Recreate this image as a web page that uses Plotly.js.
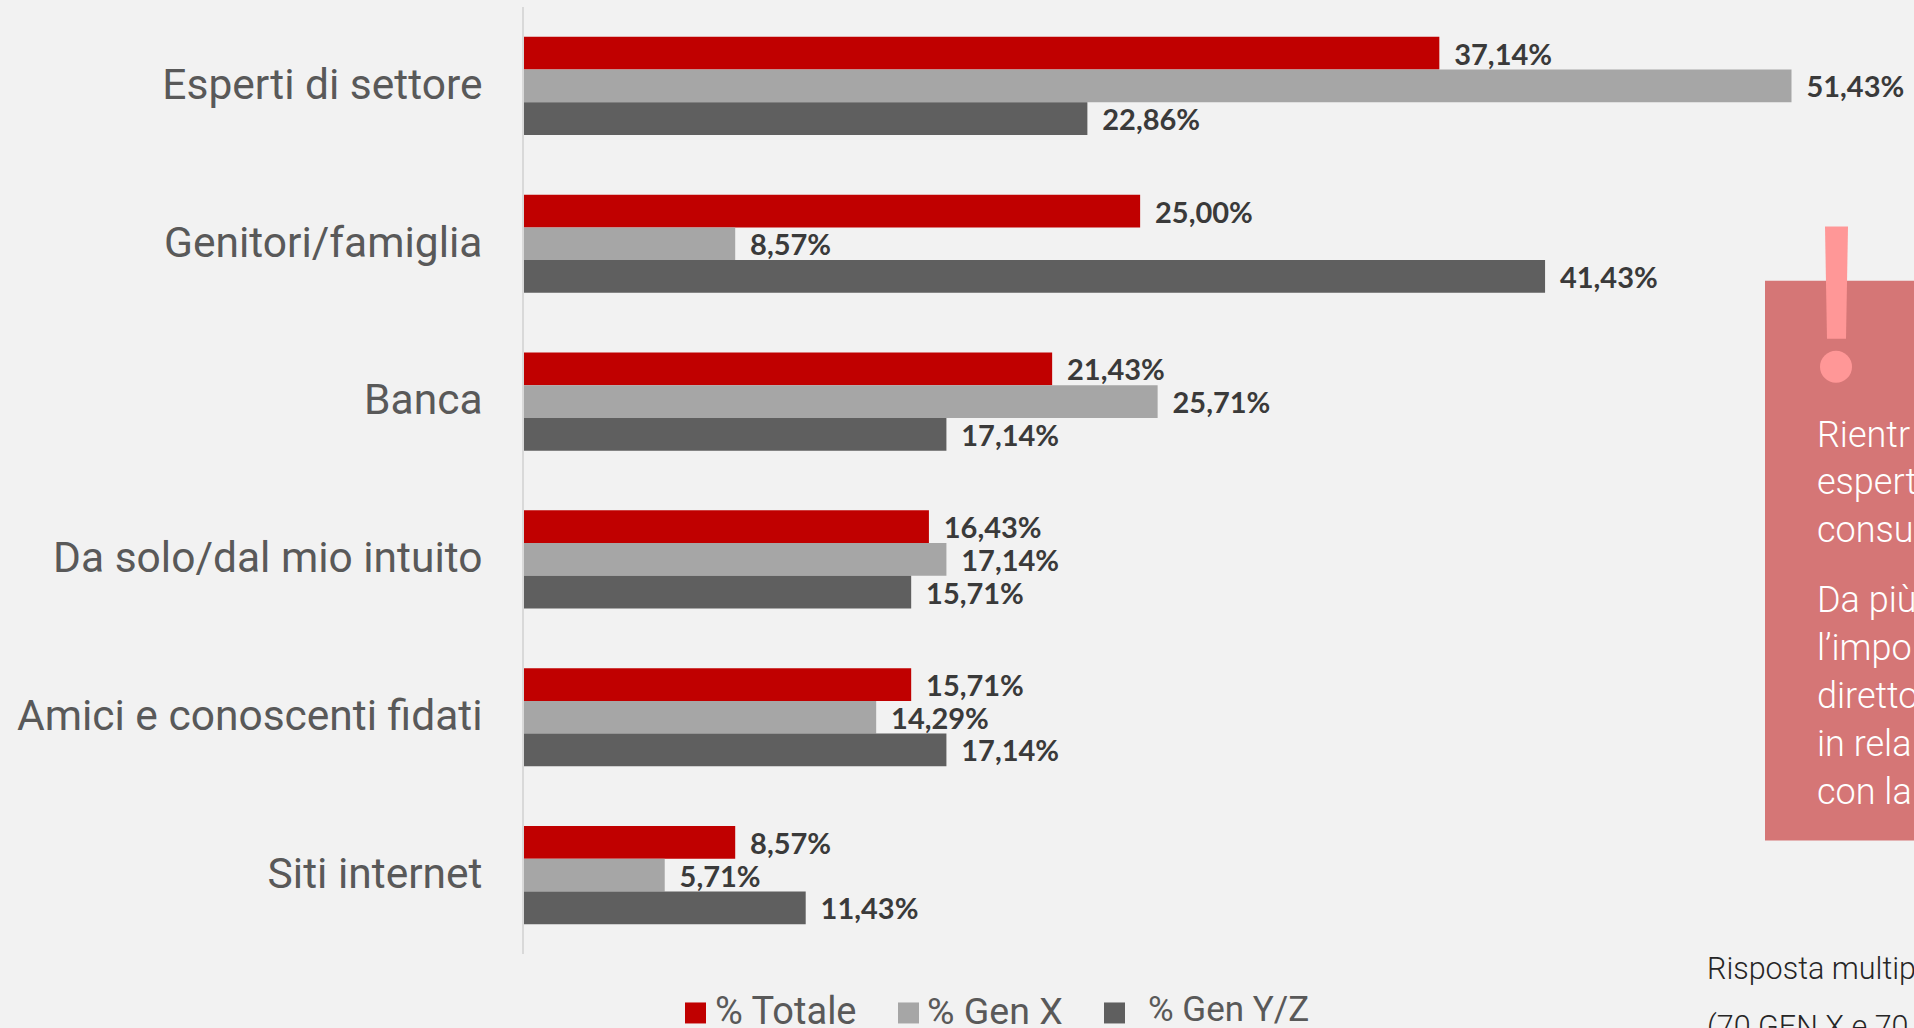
<!DOCTYPE html>
<html>
<head>
<meta charset="utf-8">
<script src="https://cdn.plot.ly/plotly-3.0.1.min.js"></script>
<style>html,body{margin:0;padding:0;background:#f2f2f2;overflow:hidden}#chart{width:1914px;height:1028px}</style>
</head>
<body>
<div id="chart"></div>
<script>
// Fonti di informazione per generazione
const categories = ["Esperti di settore", "Genitori/famiglia", "Banca", "Da solo/dal mio intuito", "Amici e conoscenti fidati", "Siti internet"];
const totale = [37.14, 25.00, 21.43, 16.43, 15.71, 8.57];
const genX = [51.43, 8.57, 25.71, 17.14, 14.29, 5.71];
const genYZ = [22.86, 41.43, 17.14, 15.71, 17.14, 11.43];
const seriesNames = ["% Totale", "% Gen X", "% Gen Y/Z"];
const seriesColors = ["#C00000", "#A6A6A6", "#5F5F5F"];
const calloutLines = ["Rientr", "espert", "consu", "Da più", "l’impo", "diretto", "in rela", "con la"];
const noteLines = ["Risposta multip", "(70 GEN X e 70"];

const W = 1914, H = 1028;
const plot = {l: 524, r: 0, t: 7, b: 73.5};
const px = x => (x - plot.l) / (W - plot.l - plot.r);
const py = y => 1 - (y - plot.t) / (H - plot.t - plot.b);
const label = v => v.toFixed(2).replace(".", ",") + "%";

const traces = [totale, genX, genYZ].map((vals, i) => ({
  type: "bar",
  orientation: "h",
  name: seriesNames[i],
  y: categories,
  x: vals,
  marker: {color: seriesColors[i]},
  text: vals.map(label),
  texttemplate: "\u00a0\u2006%{text}",
  textposition: "outside",
  cliponaxis: false,
  constraintext: "none",
  textfont: {family: "Lato", size: 29, color: "#3A3A3A", weight: 700},
  hoverinfo: "skip"
}));

// Legenda, riquadro e note
const legendY = [1013.5, 1013.5, 1013.5];
const legendX = [685, 898, 1104];
const legendTextX = [714, 926, 1147];
const legendTextY = [1012, 1012, 1010];
const legendSize = [38, 37.5, 35];

const shapes = legendX.map((x, i) => ({
  type: "rect", xref: "paper", yref: "paper", line: {width: 0},
  x0: px(x), x1: px(x + 21), y0: py(legendY[i] - 10.5), y1: py(legendY[i] + 10.5),
  fillcolor: seriesColors[i]
}));
shapes.push({type: "rect", xref: "paper", yref: "paper", line: {width: 0}, layer: "below",
  x0: px(1765), x1: px(1914), y0: py(281), y1: py(841), fillcolor: "#D57676"});
shapes.push({type: "path", xref: "paper", yref: "paper", line: {width: 0}, fillcolor: "#FF9797",
  path: `M ${px(1825)} ${py(226.5)} L ${px(1848)} ${py(226.5)} L ${px(1846)} ${py(339)} L ${px(1827)} ${py(339)} Z`});
shapes.push({type: "circle", xref: "paper", yref: "paper", line: {width: 0}, fillcolor: "#FF9797",
  x0: px(1820), x1: px(1852), y0: py(351), y1: py(383)});

const annotations = [];
seriesNames.forEach((n, i) => annotations.push({
  xref: "paper", yref: "paper", x: px(legendTextX[i]), y: py(legendTextY[i]),
  xanchor: "left", yanchor: "middle", showarrow: false, text: n, borderpad: 0,
  font: {family: "Roboto", size: legendSize[i], color: "#595959"}
}));
const calloutY = [435.5, 482.5, 530.5, 600, 648, 696, 744, 792];
calloutLines.forEach((t, i) => annotations.push({
  xref: "paper", yref: "paper", x: px(1816), y: py(calloutY[i]),
  xanchor: "left", yanchor: "middle", showarrow: false, text: t, borderpad: 0,
  font: {family: "Roboto", size: 36, color: "#FFFFFF", weight: 300}
}));
const noteY = [969, 1028];
noteLines.forEach((t, i) => annotations.push({
  xref: "paper", yref: "paper", x: px(1706), y: py(noteY[i]),
  xanchor: "left", yanchor: "middle", showarrow: false, text: t, borderpad: 0,
  font: {family: "Roboto", size: 30.5, color: "#262626", weight: 300}
}));

const layout = {
  width: W, height: H,
  margin: plot,
  paper_bgcolor: "#F2F2F2",
  plot_bgcolor: "#F2F2F2",
  barmode: "group",
  bargap: 0.378,
  bargroupgap: 0,
  showlegend: false,
  xaxis: {range: [0, 56.40], visible: false, fixedrange: true},
  yaxis: {
    autorange: "reversed", type: "category", showline: true, linecolor: "#D9D9D9", linewidth: 2,
    showgrid: false, zeroline: false, ticks: "outside", ticklen: 31, tickcolor: "rgba(0,0,0,0)",
    ticklabelshift: 2,
    tickfont: {family: "Roboto", size: 42.5, color: "#595959"}
  },
  shapes, annotations
};
Plotly.newPlot("chart", traces, layout, {displayModeBar: false, staticPlot: true});
</script>
</body>
</html>
